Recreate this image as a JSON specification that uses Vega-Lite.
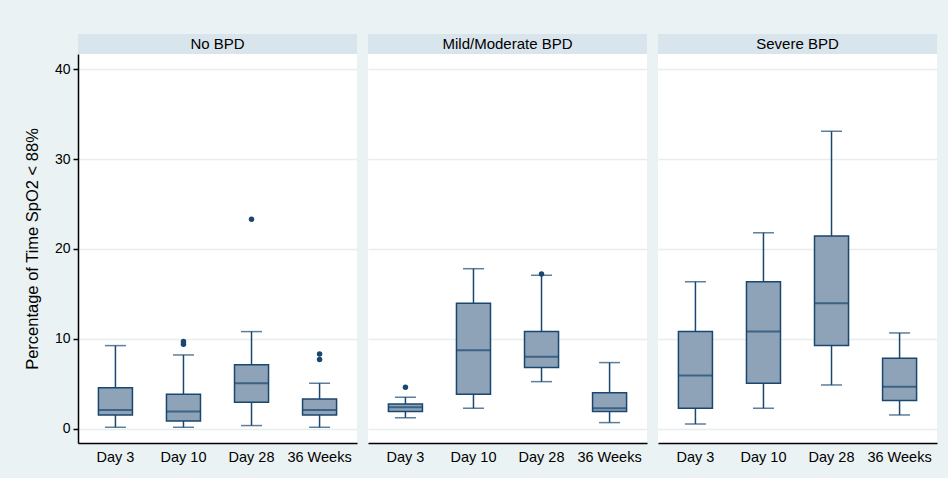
{
  "$schema": "https://vega.github.io/schema/vega-lite/v6.json",
  "background": "#eaf2f3",
  "padding": {"left": 24, "top": 34, "right": 11, "bottom": 14},
  "spacing": 11,
  "datasets": {
    "panels": [
      {"group": "No BPD"},
      {"group": "Mild/Moderate BPD"},
      {"group": "Severe BPD"}
    ],
    "boxes": [
      {"group": "No BPD", "time": "Day 3", "lower": 0.15, "q1": 1.52, "median": 2.08, "q3": 4.56, "upper": 9.24},
      {"group": "No BPD", "time": "Day 10", "lower": 0.15, "q1": 0.86, "median": 1.9, "q3": 3.83, "upper": 8.2},
      {"group": "No BPD", "time": "Day 28", "lower": 0.34, "q1": 2.93, "median": 5.05, "q3": 7.12, "upper": 10.8},
      {"group": "No BPD", "time": "36 Weeks", "lower": 0.15, "q1": 1.52, "median": 2.08, "q3": 3.3, "upper": 5.05},
      {"group": "Mild/Moderate BPD", "time": "Day 3", "lower": 1.22, "q1": 1.9, "median": 2.38, "q3": 2.75, "upper": 3.5},
      {"group": "Mild/Moderate BPD", "time": "Day 10", "lower": 2.27, "q1": 3.83, "median": 8.72, "q3": 13.96, "upper": 17.8},
      {"group": "Mild/Moderate BPD", "time": "Day 28", "lower": 5.23, "q1": 6.8, "median": 8.0, "q3": 10.8, "upper": 17.07},
      {"group": "Mild/Moderate BPD", "time": "36 Weeks", "lower": 0.67, "q1": 1.9, "median": 2.27, "q3": 4.0, "upper": 7.35},
      {"group": "Severe BPD", "time": "Day 3", "lower": 0.52, "q1": 2.27, "median": 5.9, "q3": 10.8, "upper": 16.36},
      {"group": "Severe BPD", "time": "Day 10", "lower": 2.27, "q1": 5.05, "median": 10.8, "q3": 16.36, "upper": 21.8},
      {"group": "Severe BPD", "time": "Day 28", "lower": 4.86, "q1": 9.24, "median": 13.96, "q3": 21.45, "upper": 33.1},
      {"group": "Severe BPD", "time": "36 Weeks", "lower": 1.52, "q1": 3.12, "median": 4.67, "q3": 7.83, "upper": 10.65}
    ],
    "outliers": [
      {"group": "No BPD", "time": "Day 10", "value": 9.4},
      {"group": "No BPD", "time": "Day 10", "value": 9.7},
      {"group": "No BPD", "time": "Day 28", "value": 23.3},
      {"group": "No BPD", "time": "36 Weeks", "value": 7.7},
      {"group": "No BPD", "time": "36 Weeks", "value": 8.3},
      {"group": "Mild/Moderate BPD", "time": "Day 3", "value": 4.6},
      {"group": "Mild/Moderate BPD", "time": "Day 28", "value": 17.2}
    ]
  },
  "config": {
    "font": "Liberation Sans",
    "view": {"stroke": null},
    "axisX": {
      "domainColor": "#000000", "domainWidth": 1.5, "ticks": false, "labelPadding": 7,
      "labelFontSize": 14.5, "labelColor": "#000000", "labelAngle": 0, "title": null, "grid": false
    },
    "axisY": {
      "gridColor": "#e6eef0", "gridWidth": 1.5
    }
  },
  "hconcat": [
    {
      "spacing": 0,
      "vconcat": [
        {
          "width": 279, "height": 20,
          "view": {"fill": "#d9e5ec", "stroke": null},
          "data": {"name": "panels"},
          "transform": [{"filter": "datum.group === 'No BPD'"}],
          "mark": {"type": "text", "fontSize": 15, "color": "#000000", "baseline": "middle"},
          "encoding": {"text": {"field": "group"}}
        },
        {
          "width": 279, "height": 389,
          "view": {"fill": "#ffffff", "stroke": null},
          "encoding": {
            "x": {"field": "time", "type": "nominal", "scale": {"domain": ["Day 3", "Day 10", "Day 28", "36 Weeks"], "paddingInner": 0.5, "paddingOuter": 0.3}}
          },
          "layer": [
            {
              "data": {"name": "boxes"},
              "transform": [{"filter": "datum.group === 'No BPD'"}],
              "mark": {"type": "rule", "color": "#1a476f", "strokeWidth": 1.5},
              "encoding": {
                "y": {"field": "lower", "type": "quantitative", "scale": {"domain": [-1.6, 41.7], "nice": false, "zero": false},
                  "title": "Percentage of Time SpO2 < 88%",
                  "axis": {"values": [0, 10, 20, 30, 40], "titleFontSize": 16.5, "titleFontWeight": "normal", "titleColor": "#000000", "titlePadding": 14,
                    "labelFontSize": 14, "labelColor": "#000000", "labelPadding": 3, "tickSize": 5, "tickColor": "#000000", "tickWidth": 1.5, "domainColor": "#000000", "domainWidth": 1.5, "grid": true}},
                "y2": {"field": "upper"}
              }
            },
            {
              "data": {"name": "boxes"},
              "transform": [{"filter": "datum.group === 'No BPD'"}],
              "mark": {"type": "tick", "color": "#1a476f", "size": 21, "thickness": 1.5},
              "encoding": {"y": {"field": "lower", "type": "quantitative", "title": "Percentage of Time SpO2 < 88%"}}
            },
            {
              "data": {"name": "boxes"},
              "transform": [{"filter": "datum.group === 'No BPD'"}],
              "mark": {"type": "tick", "color": "#1a476f", "size": 21, "thickness": 1.5},
              "encoding": {"y": {"field": "upper", "type": "quantitative", "title": "Percentage of Time SpO2 < 88%"}}
            },
            {
              "data": {"name": "boxes"},
              "transform": [{"filter": "datum.group === 'No BPD'"}],
              "mark": {"type": "bar", "fill": "#8ea3b8", "stroke": "#1a476f", "strokeWidth": 1.5},
              "encoding": {"y": {"field": "q1", "type": "quantitative", "title": "Percentage of Time SpO2 < 88%"}, "y2": {"field": "q3"}}
            },
            {
              "data": {"name": "boxes"},
              "transform": [{"filter": "datum.group === 'No BPD'"}],
              "mark": {"type": "tick", "color": "#1a476f", "size": 34, "thickness": 2},
              "encoding": {"y": {"field": "median", "type": "quantitative", "title": "Percentage of Time SpO2 < 88%"}}
            },
            {
              "data": {"name": "outliers"},
              "transform": [{"filter": "datum.group === 'No BPD'"}],
              "mark": {"type": "point", "filled": true, "color": "#1a476f", "size": 30, "opacity": 1},
              "encoding": {"y": {"field": "value", "type": "quantitative", "title": "Percentage of Time SpO2 < 88%"}}
            }
          ]
        }
      ]
    },
    {
      "spacing": 0,
      "vconcat": [
        {
          "width": 279, "height": 20,
          "view": {"fill": "#d9e5ec", "stroke": null},
          "data": {"name": "panels"},
          "transform": [{"filter": "datum.group === 'Mild/Moderate BPD'"}],
          "mark": {"type": "text", "fontSize": 15, "color": "#000000", "baseline": "middle"},
          "encoding": {"text": {"field": "group"}}
        },
        {
          "width": 279, "height": 389,
          "view": {"fill": "#ffffff", "stroke": null},
          "encoding": {
            "x": {"field": "time", "type": "nominal", "scale": {"domain": ["Day 3", "Day 10", "Day 28", "36 Weeks"], "paddingInner": 0.5, "paddingOuter": 0.3}}
          },
          "layer": [
            {
              "data": {"name": "boxes"},
              "transform": [{"filter": "datum.group === 'Mild/Moderate BPD'"}],
              "mark": {"type": "rule", "color": "#1a476f", "strokeWidth": 1.5},
              "encoding": {
                "y": {"field": "lower", "type": "quantitative", "scale": {"domain": [-1.6, 41.7], "nice": false, "zero": false}, "title": null,
                  "axis": {"values": [0, 10, 20, 30, 40], "labels": false, "ticks": false, "domain": false, "grid": true}},
                "y2": {"field": "upper"}
              }
            },
            {
              "data": {"name": "boxes"},
              "transform": [{"filter": "datum.group === 'Mild/Moderate BPD'"}],
              "mark": {"type": "tick", "color": "#1a476f", "size": 21, "thickness": 1.5},
              "encoding": {"y": {"field": "lower", "type": "quantitative", "title": null}}
            },
            {
              "data": {"name": "boxes"},
              "transform": [{"filter": "datum.group === 'Mild/Moderate BPD'"}],
              "mark": {"type": "tick", "color": "#1a476f", "size": 21, "thickness": 1.5},
              "encoding": {"y": {"field": "upper", "type": "quantitative", "title": null}}
            },
            {
              "data": {"name": "boxes"},
              "transform": [{"filter": "datum.group === 'Mild/Moderate BPD'"}],
              "mark": {"type": "bar", "fill": "#8ea3b8", "stroke": "#1a476f", "strokeWidth": 1.5},
              "encoding": {"y": {"field": "q1", "type": "quantitative", "title": null}, "y2": {"field": "q3"}}
            },
            {
              "data": {"name": "boxes"},
              "transform": [{"filter": "datum.group === 'Mild/Moderate BPD'"}],
              "mark": {"type": "tick", "color": "#1a476f", "size": 34, "thickness": 2},
              "encoding": {"y": {"field": "median", "type": "quantitative", "title": null}}
            },
            {
              "data": {"name": "outliers"},
              "transform": [{"filter": "datum.group === 'Mild/Moderate BPD'"}],
              "mark": {"type": "point", "filled": true, "color": "#1a476f", "size": 30, "opacity": 1},
              "encoding": {"y": {"field": "value", "type": "quantitative", "title": null}}
            }
          ]
        }
      ]
    },
    {
      "spacing": 0,
      "vconcat": [
        {
          "width": 279, "height": 20,
          "view": {"fill": "#d9e5ec", "stroke": null},
          "data": {"name": "panels"},
          "transform": [{"filter": "datum.group === 'Severe BPD'"}],
          "mark": {"type": "text", "fontSize": 15, "color": "#000000", "baseline": "middle"},
          "encoding": {"text": {"field": "group"}}
        },
        {
          "width": 279, "height": 389,
          "view": {"fill": "#ffffff", "stroke": null},
          "encoding": {
            "x": {"field": "time", "type": "nominal", "scale": {"domain": ["Day 3", "Day 10", "Day 28", "36 Weeks"], "paddingInner": 0.5, "paddingOuter": 0.3}}
          },
          "layer": [
            {
              "data": {"name": "boxes"},
              "transform": [{"filter": "datum.group === 'Severe BPD'"}],
              "mark": {"type": "rule", "color": "#1a476f", "strokeWidth": 1.5},
              "encoding": {
                "y": {"field": "lower", "type": "quantitative", "scale": {"domain": [-1.6, 41.7], "nice": false, "zero": false}, "title": null,
                  "axis": {"values": [0, 10, 20, 30, 40], "labels": false, "ticks": false, "domain": false, "grid": true}},
                "y2": {"field": "upper"}
              }
            },
            {
              "data": {"name": "boxes"},
              "transform": [{"filter": "datum.group === 'Severe BPD'"}],
              "mark": {"type": "tick", "color": "#1a476f", "size": 21, "thickness": 1.5},
              "encoding": {"y": {"field": "lower", "type": "quantitative", "title": null}}
            },
            {
              "data": {"name": "boxes"},
              "transform": [{"filter": "datum.group === 'Severe BPD'"}],
              "mark": {"type": "tick", "color": "#1a476f", "size": 21, "thickness": 1.5},
              "encoding": {"y": {"field": "upper", "type": "quantitative", "title": null}}
            },
            {
              "data": {"name": "boxes"},
              "transform": [{"filter": "datum.group === 'Severe BPD'"}],
              "mark": {"type": "bar", "fill": "#8ea3b8", "stroke": "#1a476f", "strokeWidth": 1.5},
              "encoding": {"y": {"field": "q1", "type": "quantitative", "title": null}, "y2": {"field": "q3"}}
            },
            {
              "data": {"name": "boxes"},
              "transform": [{"filter": "datum.group === 'Severe BPD'"}],
              "mark": {"type": "tick", "color": "#1a476f", "size": 34, "thickness": 2},
              "encoding": {"y": {"field": "median", "type": "quantitative", "title": null}}
            },
            {
              "data": {"name": "outliers"},
              "transform": [{"filter": "datum.group === 'Severe BPD'"}],
              "mark": {"type": "point", "filled": true, "color": "#1a476f", "size": 30, "opacity": 1},
              "encoding": {"y": {"field": "value", "type": "quantitative", "title": null}}
            }
          ]
        }
      ]
    }
  ]
}
